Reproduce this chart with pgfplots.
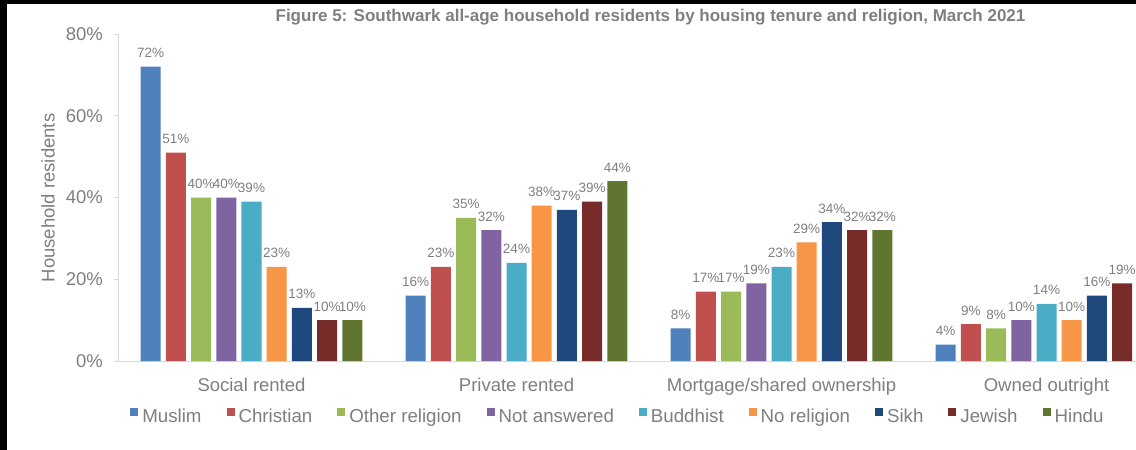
\documentclass[border=0pt]{standalone}
\usepackage{pgfplots}
\pgfplotsset{compat=1.18}
\usepackage{fontspec}
\setmainfont{Liberation Sans}
\definecolor{cMus}{HTML}{4F81BD}
\definecolor{cChr}{HTML}{C0504D}
\definecolor{cOth}{HTML}{9BBB59}
\definecolor{cNot}{HTML}{8064A2}
\definecolor{cBud}{HTML}{4BACC6}
\definecolor{cNo}{HTML}{F79646}
\definecolor{cSik}{HTML}{1F497D}
\definecolor{cJew}{HTML}{772C2A}
\definecolor{cHin}{HTML}{5F7530}
\definecolor{txt}{HTML}{7F7F7F}
\definecolor{axl}{HTML}{D9D9D9}
\begin{document}
\begin{tikzpicture}
\fill[white] (0pt,0pt) rectangle (1136pt,-450pt);
\begin{axis}[
  at={(119pt,-361pt)}, anchor=south west,
  scale only axis, width=1060pt, height=327pt,
  xmin=-0.5, xmax=3.5, ymin=0, ymax=80,
  ybar=5.2pt, bar width=20pt,
  axis x line*=bottom, axis y line*=left,
  axis line style={draw=axl, line width=1pt},
  xtick={0,1,2,3},
  xticklabels={Social rented, Private rented, Mortgage/shared ownership, Owned outright},
  xtick style={draw=none},
  ytick={0,20,40,60,80},
  yticklabels={0\%,20\%,40\%,60\%,80\%},
  ytick style={draw=axl, line width=1pt},
  tick align=outside, major tick length=5pt,
  xticklabel style={anchor=base, yshift=-25pt, inner sep=0pt, font=\fontsize{18.5}{22}\selectfont, text=txt},
  yticklabel style={anchor=east, inner sep=0pt, xshift=-11pt, font=\fontsize{18.5}{22}\selectfont, text=txt},
  ylabel={Household residents},
  ylabel style={at={(axis description cs:-0.067,0.4985)}, anchor=center, inner sep=0pt, font=\fontsize{18.5}{22}\selectfont, text=txt},
  title={Figure 5: Southwark all-age household residents by housing tenure and religion, March 2021},
  title style={at={(axis description cs:0.5014,1.0214)}, anchor=base, inner sep=0pt, font=\bfseries\fontsize{17}{20}\selectfont, text=txt},
  nodes near coords={\pgfmathprintnumber[assume math mode=true]{\pgfplotspointmeta}\%},
  every node near coord/.append style={font=\fontsize{13.5}{16}\selectfont, text=txt, anchor=base, yshift=9pt, inner sep=0pt},
  legend columns=9,
  legend style={at={(axis description cs:0.0105,-0.1676)}, anchor=west, draw=none, fill=none, inner sep=0pt,
    font=\fontsize{18.7}{22}\selectfont, text=txt, nodes={inner sep=0pt},
    /tikz/every odd column/.append style={column sep=4pt},
    /tikz/every even column/.append style={column sep=25pt}},
  legend image code/.code={\fill[#1] (0pt,0.5pt) rectangle (8pt,8.5pt);},
]
\addplot[fill=cMus, draw=none] coordinates {(0,72) (1,16) (2,8) (3,4)};
\addplot[fill=cChr, draw=none] coordinates {(0,51) (1,23) (2,17) (3,9)};
\addplot[fill=cOth, draw=none] coordinates {(0,40) (1,35) (2,17) (3,8)};
\addplot[fill=cNot, draw=none] coordinates {(0,40) (1,32) (2,19) (3,10)};
\addplot[fill=cBud, draw=none] coordinates {(0,39) (1,24) (2,23) (3,14)};
\addplot[fill=cNo, draw=none] coordinates {(0,23) (1,38) (2,29) (3,10)};
\addplot[fill=cSik, draw=none] coordinates {(0,13) (1,37) (2,34) (3,16)};
\addplot[fill=cJew, draw=none] coordinates {(0,10) (1,39) (2,32) (3,19)};
\addplot[fill=cHin, draw=none] coordinates {(0,10) (1,44) (2,32)};
\legend{Muslim, Christian, Other religion, Not answered, Buddhist, No religion, Sikh, Jewish, Hindu}
\end{axis}
\fill[black] (0pt,0pt) rectangle (1136pt,-3.5pt);
\fill[black] (0pt,0pt) rectangle (7pt,-450pt);
\pgfresetboundingbox
\path[use as bounding box] (0pt,0pt) rectangle (1136pt,-450pt);
\end{tikzpicture}
\end{document}
